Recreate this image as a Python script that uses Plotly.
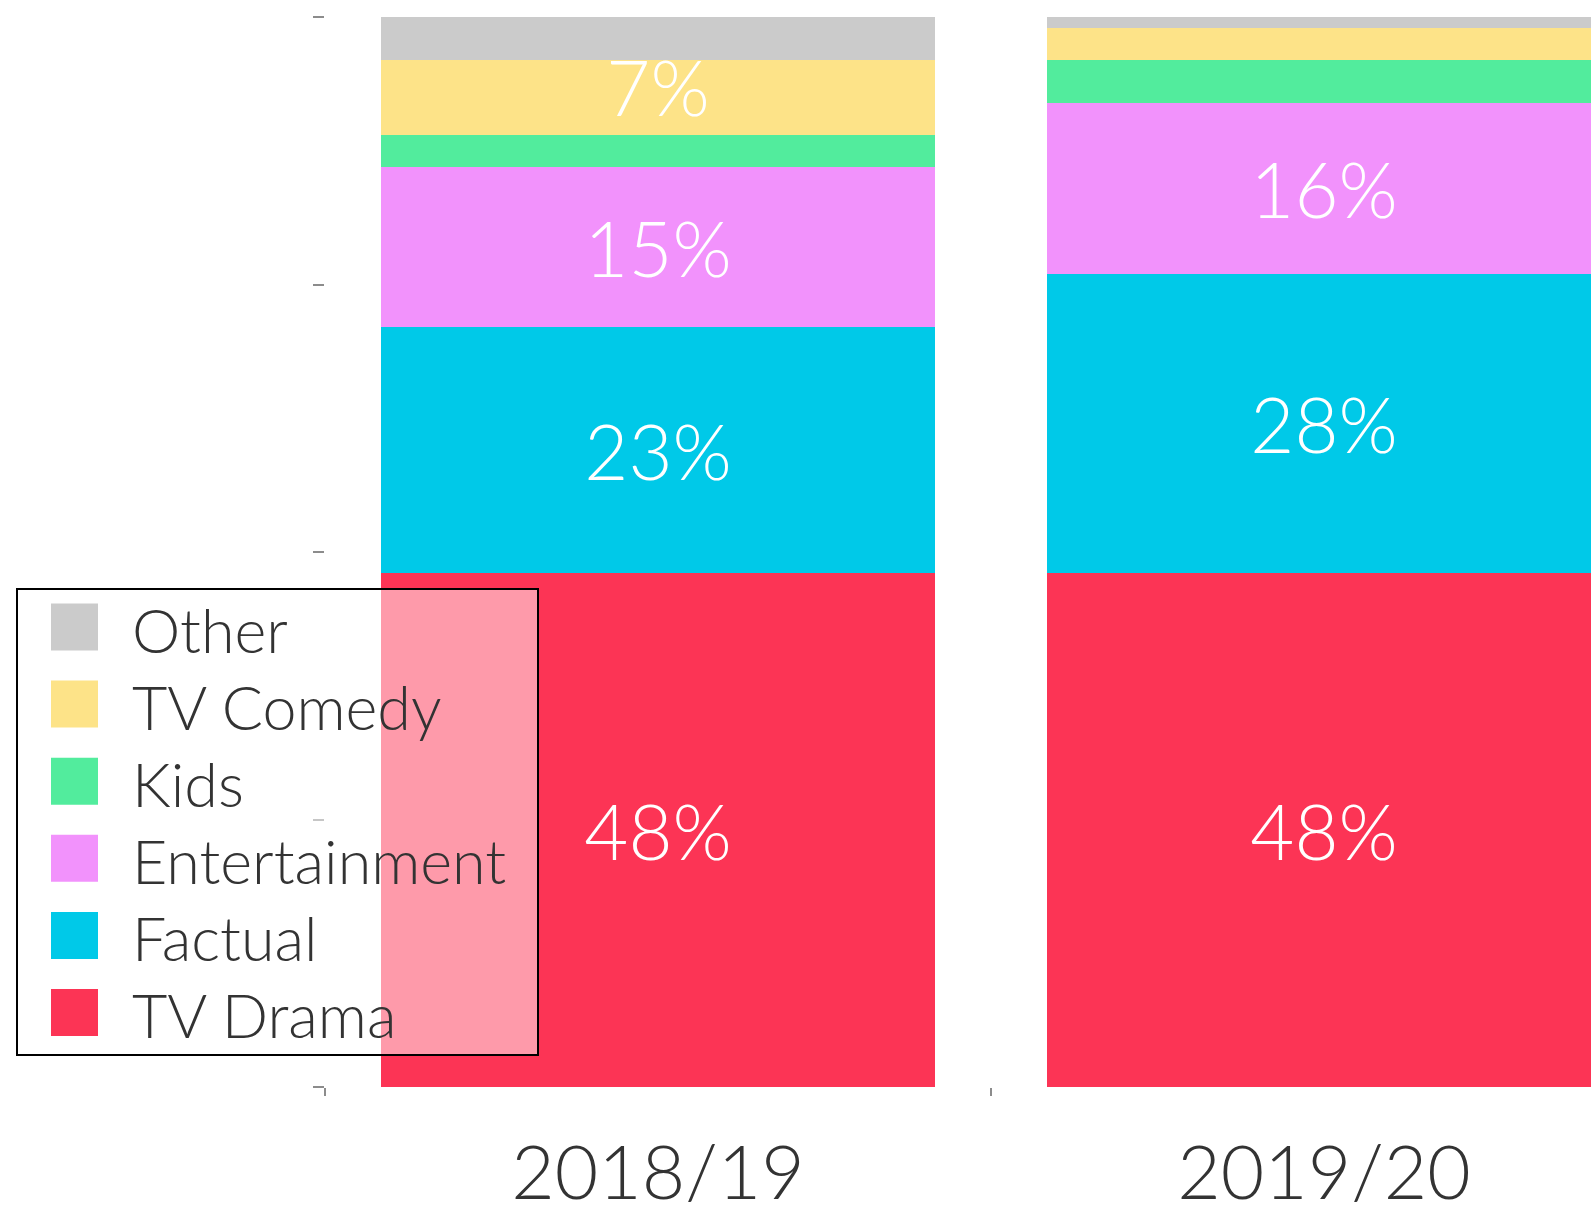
import plotly.graph_objects as go

# ---- data ----
years = ["2018/19", "2019/20"]
series = ["TV Drama", "Factual", "Entertainment", "Kids", "TV Comedy", "Other"]
drama = [48, 48]
factual = [23, 28]
entertainment = [15, 16]
kids = [3, 4]
comedy = [7, 3]
other = [4, 1]
shown_labels = {  # labels printed inside the bars
    "TV Drama": ["48%", "48%"],
    "Factual": ["23%", "28%"],
    "Entertainment": ["15%", "16%"],
    "Kids": ["", ""],
    "TV Comedy": ["7%", ""],
    "Other": ["", ""],
}
values = {"TV Drama": drama, "Factual": factual, "Entertainment": entertainment,
          "Kids": kids, "TV Comedy": comedy, "Other": other}
legend_order = ["Other", "TV Comedy", "Kids", "Entertainment", "Factual", "TV Drama"]

# ---- style ----
colors = {"TV Drama": "#FC3455", "Factual": "#00C9E8", "Entertainment": "#F292FC",
          "Kids": "#52EC9D", "TV Comedy": "#FDE388", "Other": "#CBCBCB"}
FONT = "Lato, 'Open Sans', sans-serif"
W, H = 1591, 1217
ML, MR, MT, MB = 325, 0, 17, 130
PW, PH = W - ML - MR, H - MT - MB
CAT_PX = 666.0  # pixels per category


def px_x(p):
    return (p - ML) / PW


def px_y(p):
    return (H - MB - p) / PH


fig = go.Figure()
for s in series:
    fig.add_trace(go.Bar(
        x=years, y=values[s], name=s, marker=dict(color=colors[s], line=dict(width=0)),
        text=shown_labels[s], textposition="inside",
        insidetextanchor="start" if s == "TV Comedy" else "middle",
        textangle=0, constraintext="none",
        textfont=dict(family=FONT, size=76, color="white", weight=300),
        hoverinfo="name+y", showlegend=False,
    ))

shapes = []
annotations = []
# legend box
shapes.append(dict(type="rect", xref="paper", yref="paper", layer="above",
                   x0=px_x(17), x1=px_x(538), y0=px_y(1055), y1=px_y(589),
                   fillcolor="rgba(255,255,255,0.5)", line=dict(color="black", width=2)))
row0, step = 627, 77.1
for i, s in enumerate(legend_order):
    cy = row0 + i * step
    shapes.append(dict(type="rect", xref="paper", yref="paper", layer="above",
                       x0=px_x(51), x1=px_x(98), y0=px_y(cy + 23.5), y1=px_y(cy - 23.5),
                       fillcolor=colors[s], line=dict(width=0)))
    annotations.append(dict(xref="paper", yref="paper", x=px_x(130), y=px_y(cy + 2),
                            xanchor="left", yanchor="middle", showarrow=False, text=s,
                            font=dict(family=FONT, size=61, color="#333333", weight=300)))

fig.update_layout(
    width=W, height=H, autosize=False,
    margin=dict(l=ML, r=MR, t=MT, b=MB, pad=0, autoexpand=False),
    barmode="stack", bargap=0.1667,
    plot_bgcolor="white", paper_bgcolor="white",
    font=dict(family=FONT, color="#333333"),
    shapes=shapes, annotations=annotations,
    xaxis=dict(type="category", range=[-0.5, -0.5 + PW / CAT_PX], tickson="boundaries",
               ticks="outside", ticklen=8, tickwidth=2, tickcolor="#8c8c8c",
               ticklabelstandoff=36, automargin=False,
               showgrid=False, zeroline=False, showline=False,
               tickfont=dict(family=FONT, size=75, color="#333333", weight=300)),
    yaxis=dict(range=[0, 100], tickvals=[0, 25, 50, 75, 100], showticklabels=False,
               ticks="outside", ticklen=11, tickwidth=2, tickcolor="#8c8c8c",
               automargin=False,
               showgrid=False, zeroline=False, showline=False),
)

fig.write_html("out.html", config={"displayModeBar": False},
               post_script="document.body.style.margin='0';document.body.style.overflow='hidden';")
